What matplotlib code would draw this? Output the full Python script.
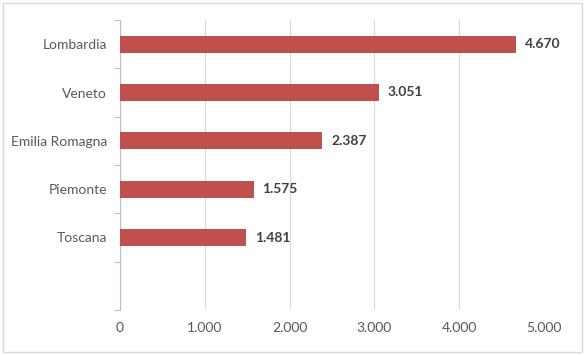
import matplotlib
matplotlib.use('Agg')
import matplotlib.pyplot as plt
from matplotlib.patches import Rectangle
from matplotlib.ticker import FuncFormatter, FixedLocator
import numpy as np

# Data
regions = ['Lombardia', 'Veneto', 'Emilia Romagna', 'Piemonte', 'Toscana']
values = [4670, 3051, 2387, 1575, 1481]
x_ticks = [0, 1000, 2000, 3000, 4000, 5000]

bar_color = '#C0504D'
grid_color = '#D9D9D9'
text_color = '#595959'


def fmt_it(v):
    return f"{int(v):,}".replace(',', '.')


plt.rcParams['font.family'] = ['Lato', 'DejaVu Sans']

fig = plt.figure(figsize=(5.86, 3.55), dpi=100)
ax = fig.add_axes([120 / 586, 1 - 310 / 355, 424 / 586, 290 / 355])

n_slots = len(regions) + 1  # Excel leaves one empty slot at the bottom
pos = np.arange(len(regions))
ax.barh(pos, values, height=0.35, color=bar_color, zorder=3)

for p, v in zip(pos, values):
    ax.annotate(fmt_it(v), xy=(v, p), xytext=(6.5, 0), textcoords='offset points',
                ha='left', va='center', fontsize=10, fontweight='bold',
                color='#404040')

ax.set_xlim(0, 5000)
ax.set_ylim(n_slots - 0.5, -0.5)
ax.set_xticks(x_ticks)
ax.xaxis.set_major_formatter(FuncFormatter(lambda v, _: fmt_it(v)))
ax.set_yticks(pos)
ax.set_yticklabels(regions)
ax.yaxis.set_minor_locator(FixedLocator(np.arange(n_slots + 1) - 0.5))

ax.tick_params(axis='x', length=0, pad=9, labelsize=10, colors=text_color)
ax.tick_params(axis='y', which='major', length=0, pad=9.5, labelsize=10, colors=text_color)
ax.tick_params(axis='y', which='minor', length=4, color='#BFBFBF', width=0.8)

ax.grid(axis='x', color=grid_color, linewidth=0.8, zorder=0)
for s in ['top', 'right', 'bottom']:
    ax.spines[s].set_visible(False)
ax.spines['left'].set_color('#BFBFBF')
ax.spines['left'].set_linewidth(0.8)

# outer chart border
fig.patches.append(Rectangle((3 / 586, 3 / 355), 579 / 586, 349 / 355,
                             transform=fig.transFigure, fill=False,
                             edgecolor=grid_color, linewidth=1))

fig.savefig('out.png', dpi=100, facecolor='white')
